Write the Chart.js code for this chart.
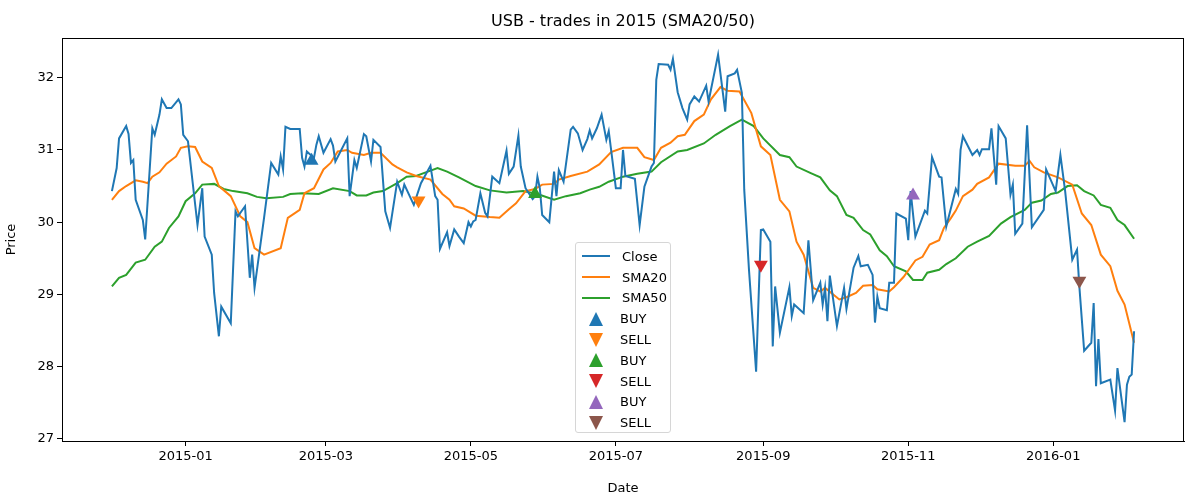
<!DOCTYPE html>
<html><head><meta charset="utf-8">
<script src="https://cdn.jsdelivr.net/npm/chart.js@4"></script>
<style>
html,body{margin:0;padding:0;background:#fff;}
#wrap{position:relative;width:1200px;height:500px;}
#legend{position:absolute;left:575px;top:242px;width:96px;height:191px;border:1px solid #d6d6d6;border-radius:3px;background:rgba(255,255,255,0.85);font-family:"DejaVu Sans";font-size:13px;color:#000;box-sizing:border-box;padding-top:3px;}
.li{height:20.8px;display:flex;align-items:center;}
.sw{width:40px;display:flex;justify-content:center;align-items:center;}
.ln{width:28px;height:2px;}
</style></head>
<body><div id="wrap"><canvas id="c" width="1200" height="500"></canvas>
<div id="legend"></div></div>
<script>
// x values are days since 2015-01-01
const closeDays=[-31,-29,-28,-25,-24,-23,-22,-21,-18,-17,-14,-13,-11,-10,-8,-6,-3,-2,-1,1,5,7,8,11,12,14,15,19,21,22,25,27,28,29,33,36,39,40,41,42,44,48,49,50,51,54,55,56,58,61,62,63,68,69,71,72,75,76,78,79,82,84,86,89,91,92,96,99,103,105,106,107,110,111,113,115,117,119,120,121,122,124,126,127,129,132,135,136,138,140,141,143,146,147,148,149,150,153,155,156,157,159,162,163,165,167,169,170,171,173,175,177,178,179,181,183,184,185,189,191,193,196,197,198,199,203,204,205,207,209,211,212,214,216,219,220,224,227,228,231,232,234,235,237,240,242,243,246,247,248,250,254,255,256,260,262,264,267,268,269,270,271,274,277,278,281,283,284,287,289,290,291,292,295,296,298,299,303,304,305,307,311,312,314,317,318,320,324,325,326,327,331,333,334,335,338,339,341,342,345,347,348,349,352,354,356,361,362,366,368,370,373,375,376,378,381,382,383,384,385,389,391,392,395,396,397,398,399];
const closeVals=[30.43,30.75,31.16,31.33,31.22,30.82,30.86,30.31,30.03,29.76,31.30,31.21,31.49,31.70,31.58,31.58,31.70,31.63,31.21,31.12,29.96,30.47,29.80,29.55,29.02,28.42,28.83,28.60,30.15,30.08,30.22,29.23,29.55,29.09,30.06,30.82,30.66,30.91,30.73,31.32,31.29,31.29,30.89,30.77,30.98,30.89,31.07,31.19,30.96,31.15,31.06,30.84,31.16,30.36,30.86,30.75,31.22,31.19,30.84,31.14,31.04,30.15,29.92,30.56,30.38,30.52,30.24,30.54,30.78,30.36,30.31,29.63,29.86,29.67,29.90,29.80,29.71,30.00,29.94,30.01,30.03,30.40,30.13,30.08,30.63,30.54,30.99,30.67,30.77,31.20,30.77,30.47,30.32,30.36,30.63,30.47,30.10,30.00,30.70,30.36,30.72,30.56,31.28,31.32,31.23,31.00,31.15,31.27,31.16,31.30,31.49,31.14,31.26,31.00,30.47,30.47,31.00,30.64,30.60,29.96,30.49,30.77,30.82,31.97,32.19,32.18,32.11,32.26,31.80,31.58,31.42,31.63,31.74,31.67,31.89,31.67,32.32,31.53,32.02,32.06,32.11,31.79,30.45,29.34,27.93,29.89,29.90,29.73,28.28,29.11,28.47,29.10,28.70,28.86,28.74,29.75,28.92,29.16,28.86,29.09,28.63,29.26,28.56,29.09,28.80,29.37,29.53,29.39,29.41,29.27,28.61,28.97,28.81,28.78,29.16,29.16,30.12,30.05,29.75,30.43,29.80,30.16,30.12,30.90,30.63,30.62,29.94,30.46,30.39,31.00,31.19,30.93,31.00,30.93,31.01,31.01,31.30,30.52,31.33,31.16,30.38,30.52,29.84,29.98,31.34,29.93,30.17,30.73,30.43,30.93,30.43,29.48,29.62,29.10,28.22,28.33,28.88,27.73,28.38,27.77,27.82,27.39,27.98,27.23,27.75,27.86,27.89,28.49];
const sma20Days=[-31,-28,-25,-21,-18,-16,-14,-11,-8,-4,-2,1,4,7,11,14,19,23,26,29,33,40,43,48,50,54,58,61,64,68,70,75,78,82,87,89,93,97,103,108,111,113,117,122,128,132,136,139,143,147,150,155,157,162,169,174,179,184,190,193,197,200,204,207,210,214,218,221,225,228,233,238,242,246,250,254,257,260,264,267,269,275,278,282,285,289,291,296,298,302,307,310,313,317,319,322,324,327,331,333,338,342,349,353,355,357,361,367,373,377,381,385,389,392,395,399];
const sma20Vals=[30.31,30.43,30.50,30.58,30.56,30.54,30.63,30.69,30.81,30.91,31.03,31.05,31.04,30.84,30.75,30.50,30.36,30.08,30.00,29.64,29.55,29.64,30.06,30.17,30.40,30.47,30.73,30.82,30.98,31.00,30.96,30.93,30.96,30.96,30.80,30.76,30.69,30.64,30.59,30.39,30.31,30.22,30.19,30.09,30.07,30.06,30.18,30.26,30.43,30.46,30.52,30.53,30.59,30.64,30.70,30.80,30.97,31.03,31.03,30.90,30.86,31.03,31.10,31.19,31.21,31.40,31.49,31.70,31.87,31.82,31.81,31.51,31.05,30.93,30.31,30.15,29.73,29.55,29.09,29.04,29.09,28.93,28.96,29.02,29.12,29.13,29.07,29.04,29.10,29.24,29.47,29.52,29.69,29.75,29.92,30.06,30.16,30.36,30.45,30.53,30.62,30.81,30.78,30.78,30.85,30.76,30.69,30.62,30.52,30.12,29.96,29.55,29.39,29.05,28.86,28.33];
const sma50Days=[-31,-28,-25,-21,-17,-13,-10,-7,-3,0,4,7,12,16,20,26,30,34,41,44,49,56,62,69,72,76,79,83,89,93,97,101,106,110,115,122,128,135,142,148,155,160,166,170,174,178,184,190,196,200,207,211,218,223,229,234,239,243,250,254,257,263,267,271,274,278,281,285,288,292,295,298,303,306,310,312,317,320,324,329,333,338,343,347,353,356,360,364,367,371,375,378,382,385,389,392,395,399];
const sma50Vals=[29.11,29.23,29.27,29.44,29.48,29.66,29.73,29.92,30.08,30.29,30.40,30.52,30.53,30.46,30.43,30.40,30.35,30.33,30.35,30.39,30.40,30.39,30.47,30.43,30.37,30.37,30.41,30.43,30.54,30.63,30.64,30.69,30.75,30.70,30.62,30.50,30.44,30.41,30.43,30.39,30.31,30.36,30.40,30.45,30.49,30.56,30.63,30.67,30.70,30.83,30.98,31.00,31.09,31.21,31.33,31.42,31.33,31.16,30.93,30.90,30.77,30.68,30.62,30.44,30.36,30.10,30.06,29.89,29.83,29.61,29.53,29.39,29.32,29.20,29.20,29.30,29.34,29.42,29.50,29.66,29.73,29.81,29.98,30.07,30.17,30.27,30.30,30.39,30.41,30.50,30.51,30.43,30.37,30.24,30.20,30.03,29.96,29.77];
const tradeLabels=["BUY","SELL","BUY","SELL","BUY","SELL"];
const tradeDays=[53,98,147,242,306,376];
const tradeVals=[30.85,30.30,30.39,29.41,30.37,29.19];
const tradeColors=["#1f77b4","#ff7f0e","#2ca02c","#d62728","#9467bd","#8c564b"];
const tickDays=[0,59,120,181,243,304,365];
const tickLabels=["2015-01","2015-03","2015-05","2015-07","2015-09","2015-11","2016-01"];
const yTicks=[27,28,29,30,31,32];

const zip=(a,b)=>a.map((x,i)=>({x:x,y:b[i]}));
const F="DejaVu Sans";
const lineDs=(label,d,v,c)=>({type:'line',label,data:zip(d,v),borderColor:c,backgroundColor:c,borderWidth:2,pointRadius:0,tension:0,order:2});
const datasets=[lineDs('Close',closeDays,closeVals,'#1f77b4'),lineDs('SMA20',sma20Days,sma20Vals,'#ff7f0e'),lineDs('SMA50',sma50Days,sma50Vals,'#2ca02c')];
tradeDays.forEach((d,i)=>datasets.push({type:'scatter',label:tradeLabels[i],data:[{x:d,y:tradeVals[i]}],pointStyle:'triangle',rotation:tradeLabels[i]==='SELL'?180:0,pointRadius:8,borderWidth:0,backgroundColor:tradeColors[i],borderColor:tradeColors[i],order:1}));

const frame={id:'frame',afterDraw(ch){const a=ch.chartArea,c=ch.ctx;c.save();c.strokeStyle='#000';c.lineWidth=1;c.strokeRect(a.left+0.5,a.top+0.5,a.right-a.left-1,a.bottom-a.top);
c.fillStyle='#000';c.font='16px "'+F+'"';c.textAlign='center';c.textBaseline='middle';c.fillText('USB - trades in 2015 (SMA20/50)',(a.left+a.right)/2,22);c.restore();}};

new Chart(document.getElementById('c'),{
 data:{datasets},
 options:{responsive:false,animation:false,
  layout:{padding:{top:38,right:16,left:0,bottom:0}},
  plugins:{legend:{display:false},tooltip:{enabled:false}},
  scales:{
   x:{type:'linear',min:-52,max:420,
     afterBuildTicks(s){s.ticks=tickDays.map(v=>({value:v}));},
     afterFit(s){s.height=59;},
     ticks:{callback:(v)=>tickLabels[tickDays.indexOf(v)],color:'#000',font:{family:F,size:13},maxRotation:0,autoSkip:false},
     grid:{drawOnChartArea:false,color:'#000',tickLength:5},border:{color:'#000'},
     title:{display:true,text:'Date',color:'#000',font:{family:F,size:13},padding:{top:2}}},
   y:{min:26.97,max:32.55,
     afterBuildTicks(s){s.ticks=yTicks.map(v=>({value:v}));},
     afterFit(s){s.width=62;},
     ticks:{color:'#000',font:{family:F,size:13},callback:v=>String(v)},
     grid:{drawOnChartArea:false,color:'#000',tickLength:5},border:{color:'#000'},
     title:{display:true,text:'Price',color:'#000',font:{family:F,size:13},padding:{bottom:2}}}
  }},
 plugins:[frame]
});

const lg=document.getElementById('legend');
const items=[['Close','#1f77b4','line'],['SMA20','#ff7f0e','line'],['SMA50','#2ca02c','line']];
tradeLabels.forEach((l,i)=>items.push([l,tradeColors[i],l]));
items.forEach(([t,c,k])=>{let sw;
 if(k==='line')sw='<div class="ln" style="background:'+c+'"></div>';
 else if(k==='BUY')sw='<svg width="16" height="16"><polygon points="8,1 15,15 1,15" fill="'+c+'"/></svg>';
 else sw='<svg width="16" height="16"><polygon points="1,1 15,1 8,15" fill="'+c+'"/></svg>';
 lg.insertAdjacentHTML('beforeend','<div class="li"><div class="sw">'+sw+'</div><span style="margin-left:'+(k==='line'?6:4)+'px">'+t+'</span></div>');});
</script></body></html>
